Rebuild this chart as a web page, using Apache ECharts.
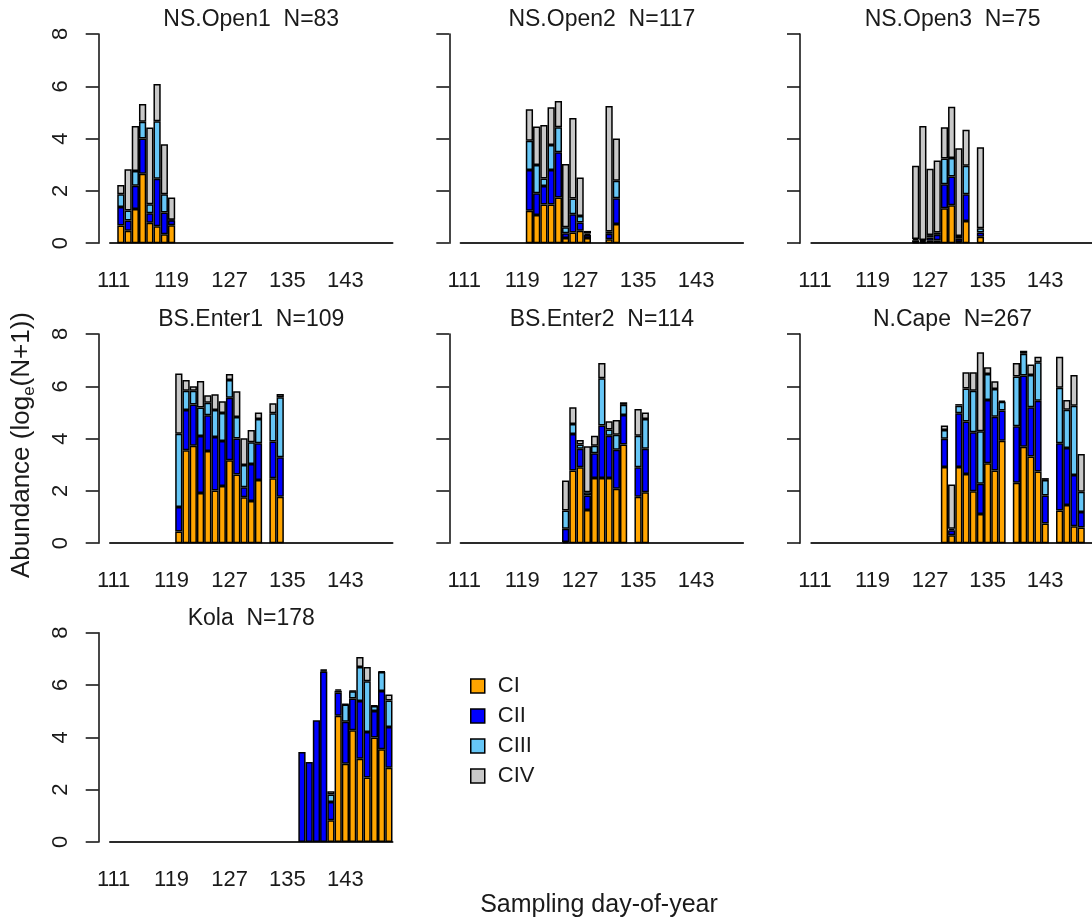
<!DOCTYPE html>
<html>
<head>
<meta charset="utf-8">
<title>Copepodite abundance by sampling day</title>
<script src="https://cdn.jsdelivr.net/npm/echarts@6/dist/echarts.min.js"></script>
<style>
  html, body { margin: 0; padding: 0; background: #fff; }
  #chart { width: 1092px; height: 920px; }
</style>
</head>
<body>
<div id="chart"></div>
<script>
// Sampling days shown on every panel's x axis
const dayCategories = ['111','112','113','114','115','116','117','118','119','120',
  '121','122','123','124','125','126','127','128','129','130',
  '131','132','133','134','135','136','137','138','139','140',
  '141','142','143','144','145','146','147','148','149'];
const yTicks = [0, 2, 4, 6, 8];
const stageNames = ['CI', 'CII', 'CIII', 'CIV'];

// Per-station segment heights, loge(N+1) units, one entry per sampled day
const nsOpen1Days = [112, 113, 114, 115, 116, 117, 118, 119];
const nsOpen1CI   = [0.68, 0.48, 1.31, 2.66, 0.78, 0.65, 0.34, 0.69];
const nsOpen1CII  = [0.70, 0.39, 0.89, 1.34, 0.37, 1.81, 0.83, 0.19];
const nsOpen1CIII = [0.49, 0.38, 0.56, 0.64, 0.34, 2.20, 0.70, 0.02];
const nsOpen1CIV  = [0.36, 1.58, 1.72, 0.68, 2.93, 1.43, 1.91, 0.85];

const nsOpen2Days = [120, 121, 122, 123, 124, 125, 126, 127, 128, 131, 132];
const nsOpen2CI   = [1.24, 1.08, 1.48, 1.48, 1.75, 0.20, 0.41, 0.48, 0.20, 0.15, 0.73];
const nsOpen2CII  = [1.56, 0.83, 0.71, 1.32, 1.73, 0.18, 0.70, 0.31, 0.12, 0.21, 0.99];
const nsOpen2CIII = [1.12, 1.08, 0.28, 0.96, 0.95, 0.23, 0.60, 0.25, 0.05, 0.09, 0.67];
const nsOpen2CIV  = [1.20, 1.47, 2.05, 1.44, 1.01, 2.42, 3.08, 1.47, 0.10, 4.80, 1.61];

const nsOpen3Days = [125, 126, 127, 128, 129, 130, 131, 132, 134];
const nsOpen3CI   = [0.03, 0.03, 0.09, 0.11, 1.34, 1.45, 0.05, 0.85, 0.25];
const nsOpen3CII  = [0.08, 0.05, 0.13, 0.21, 0.91, 1.10, 0.12, 1.02, 0.16];
const nsOpen3CIII = [0.05, 0.04, 0.09, 0.09, 0.99, 0.71, 0.11, 1.09, 0.16];
const nsOpen3CIV  = [2.80, 4.36, 2.54, 2.75, 1.19, 1.96, 3.35, 1.38, 3.10];

const bsEnter1Days = [120, 121, 122, 123, 124, 125, 126, 127, 128, 129, 130, 131, 133, 134];
const bsEnter1CI   = [0.45, 3.55, 3.73, 1.92, 3.53, 2.02, 2.19, 3.17, 2.63, 1.76, 1.61, 2.42, 2.48, 1.78];
const bsEnter1CII  = [0.93, 1.54, 1.57, 2.18, 1.36, 2.04, 1.72, 2.39, 1.37, 0.38, 1.42, 1.40, 1.41, 1.51];
const bsEnter1CIII = [2.81, 0.74, 0.53, 1.09, 0.48, 1.03, 1.07, 0.68, 0.83, 0.85, 0.83, 0.93, 1.08, 2.29];
const bsEnter1CIV  = [2.30, 0.41, 0.17, 1.01, 0.29, 0.61, 0.45, 0.23, 0.98, 1.02, 0.47, 0.25, 0.38, 0.13];

const bsEnter2Days = [125, 126, 127, 128, 129, 130, 131, 132, 133, 135, 136];
const bsEnter2CI   = [0.05, 2.78, 2.90, 1.27, 2.49, 2.49, 2.49, 2.08, 3.77, 1.78, 1.95];
const bsEnter2CII  = [0.50, 1.40, 0.71, 0.55, 0.95, 2.01, 1.62, 1.49, 1.13, 1.12, 1.66];
const bsEnter2CIII = [0.70, 0.38, 0.16, 0.13, 0.29, 1.81, 0.24, 0.58, 0.39, 1.21, 1.14];
const bsEnter2CIV  = [1.15, 0.64, 0.18, 1.76, 0.38, 0.58, 0.31, 0.56, 0.10, 1.02, 0.25];

const nCapeDays = [129, 130, 131, 132, 133, 134, 135, 136, 137, 139, 140, 141, 142, 143, 145, 146, 147, 148];
const nCapeCI   = [2.91, 0.30, 2.91, 2.65, 1.99, 1.12, 3.06, 2.78, 3.92, 2.31, 3.69, 3.32, 2.74, 0.75, 1.25, 1.46, 0.65, 0.60];
const nCapeCII  = [1.08, 0.20, 2.06, 2.00, 2.25, 1.15, 2.42, 2.06, 1.15, 2.16, 2.72, 1.88, 2.71, 1.07, 2.57, 2.18, 1.96, 0.59];
const nCapeCIII = [0.34, 0.05, 0.29, 1.27, 1.59, 2.01, 0.99, 1.06, 0.34, 1.90, 0.83, 1.23, 1.47, 0.60, 2.12, 1.46, 2.65, 0.78];
const nCapeCIV  = [0.17, 1.69, 0.06, 0.62, 0.71, 3.02, 0.26, 0.29, 0.04, 0.52, 0.12, 0.40, 0.21, 0.07, 1.19, 0.38, 1.17, 1.44];

const kolaDays = [137, 138, 139, 140, 141, 142, 143, 144, 145, 146, 147, 148, 149];
const kolaCI   = [0, 0, 0, 0, 0.83, 4.82, 2.99, 4.27, 3.18, 2.46, 3.99, 3.54, 2.84];
const kolaCII  = [3.44, 3.06, 4.65, 6.52, 0.70, 0.89, 1.60, 1.21, 2.21, 1.74, 1.02, 2.23, 1.55];
const kolaCIII = [0, 0, 0, 0.04, 0.28, 0.07, 0.66, 0.28, 1.30, 1.94, 0.19, 0.73, 1.02];
const kolaCIV  = [0, 0, 0, 0.03, 0.13, 0.05, 0.02, 0.02, 0.38, 0.55, 0.02, 0.02, 0.23];

const stations = [
  { title: 'NS.Open1  N=83',   days: nsOpen1Days,  stages: [nsOpen1CI, nsOpen1CII, nsOpen1CIII, nsOpen1CIV] },
  { title: 'NS.Open2  N=117',  days: nsOpen2Days,  stages: [nsOpen2CI, nsOpen2CII, nsOpen2CIII, nsOpen2CIV] },
  { title: 'NS.Open3  N=75',   days: nsOpen3Days,  stages: [nsOpen3CI, nsOpen3CII, nsOpen3CIII, nsOpen3CIV] },
  { title: 'BS.Enter1  N=109', days: bsEnter1Days, stages: [bsEnter1CI, bsEnter1CII, bsEnter1CIII, bsEnter1CIV] },
  { title: 'BS.Enter2  N=114', days: bsEnter2Days, stages: [bsEnter2CI, bsEnter2CII, bsEnter2CIII, bsEnter2CIV] },
  { title: 'N.Cape  N=267',    days: nCapeDays,    stages: [nCapeCI, nCapeCII, nCapeCIII, nCapeCIV] },
  { title: 'Kola  N=178',      days: kolaDays,     stages: [kolaCI, kolaCII, kolaCIII, kolaCIV] }
];

// Layout of the 3x3 panel grid (pixels)
const axisX = [98.7, 449.3, 800];     // y-axis line of each column
const axisGap = 11.3;                 // gap between y axis and first day band
const plotW = 282.5;
const rowTop = [34, 334, 632.7];
const plotH = 209.2;
const stageColors = ['#FFA500', '#0000FF', '#66C6F6', '#C8C8C8'];
const FONT = 'Liberation Sans, Arial, Helvetica, sans-serif';
const INK = '#1a1a1a';

const grids = [], xAxes = [], yAxes = [], series = [], graphics = [];

stations.forEach((st, i) => {
  const col = i % 3, row = Math.floor(i / 3);
  grids.push({ left: axisX[col] + axisGap, top: rowTop[row], width: plotW, height: plotH });
  xAxes.push({
    type: 'category', gridIndex: i, data: dayCategories,
    axisLine: { lineStyle: { color: '#2a2a2a', width: 2 } },
    axisTick: { show: false },
    axisLabel: { interval: 7, margin: 27, fontSize: 22, fontFamily: FONT, color: INK },
    splitLine: { show: false }
  });
  yAxes.push({
    type: 'value', gridIndex: i, min: 0, max: 8, interval: 2, offset: axisGap,
    axisLine: { show: true, lineStyle: { color: '#1a1a1a', width: 1.6 } },
    axisTick: { show: true, length: 13, lineStyle: { color: '#1a1a1a', width: 1.6 } },
    axisLabel: {
      show: col === 0, rotate: 90, margin: 27, fontSize: 22, fontFamily: FONT, color: INK,
      formatter: v => (yTicks.indexOf(v) >= 0 ? String(v) : '')
    },
    splitLine: { show: false }
  });
  st.stages.forEach((vals, s) => {
    const full = dayCategories.map(() => null);
    st.days.forEach((d, k) => {
      const idx = dayCategories.indexOf(String(d));
      full[idx] = vals[k] > 0 ? vals[k] : null;
    });
    series.push({
      type: 'bar', name: stageNames[s], xAxisIndex: i, yAxisIndex: i,
      stack: 'station' + i, data: full, barCategoryGap: '0%',
      itemStyle: { color: stageColors[s], borderColor: '#000', borderWidth: 1.5 },
      emphasis: { disabled: true }, animation: false
    });
  });
  graphics.push({
    type: 'text', x: axisX[col] + axisGap + plotW / 2, y: rowTop[row] - 14,
    style: { text: st.title, align: 'center', verticalAlign: 'middle',
             fontSize: 23, fontFamily: FONT, fill: INK }
  });
});

// Shared axis titles
graphics.push({
  type: 'text', x: 599, y: 905,
  style: { text: 'Sampling day-of-year', align: 'center', verticalAlign: 'middle',
           fontSize: 25, fontFamily: FONT, fill: INK }
});
graphics.push({
  type: 'text', x: 22, y: 445, rotation: Math.PI / 2,
  style: {
    text: '{a|Abundance (log}{b|e}{a|(N+1))}', align: 'center', verticalAlign: 'middle',
    fill: INK,
    rich: {
      a: { fontSize: 26, lineHeight: 32, fontFamily: FONT, fill: INK },
      b: { fontSize: 17, fontFamily: FONT, fill: INK, verticalAlign: 'bottom' }
    }
  }
});

const chart = echarts.init(document.getElementById('chart'), null, { renderer: 'canvas' });
chart.setOption({
  animation: false,
  backgroundColor: '#fff',
  grid: grids,
  xAxis: xAxes,
  yAxis: yAxes,
  series: series,
  legend: {
    data: stageNames, orient: 'vertical', left: 465, top: 670,
    icon: 'rect', itemWidth: 14, itemHeight: 14, itemGap: 8,
    itemStyle: { borderColor: '#000', borderWidth: 1.5 },
    textStyle: { fontSize: 22, fontFamily: FONT, color: INK, padding: [0, 0, 0, 8] },
    selectedMode: false
  },
  graphic: graphics
});
</script>
</body>
</html>
